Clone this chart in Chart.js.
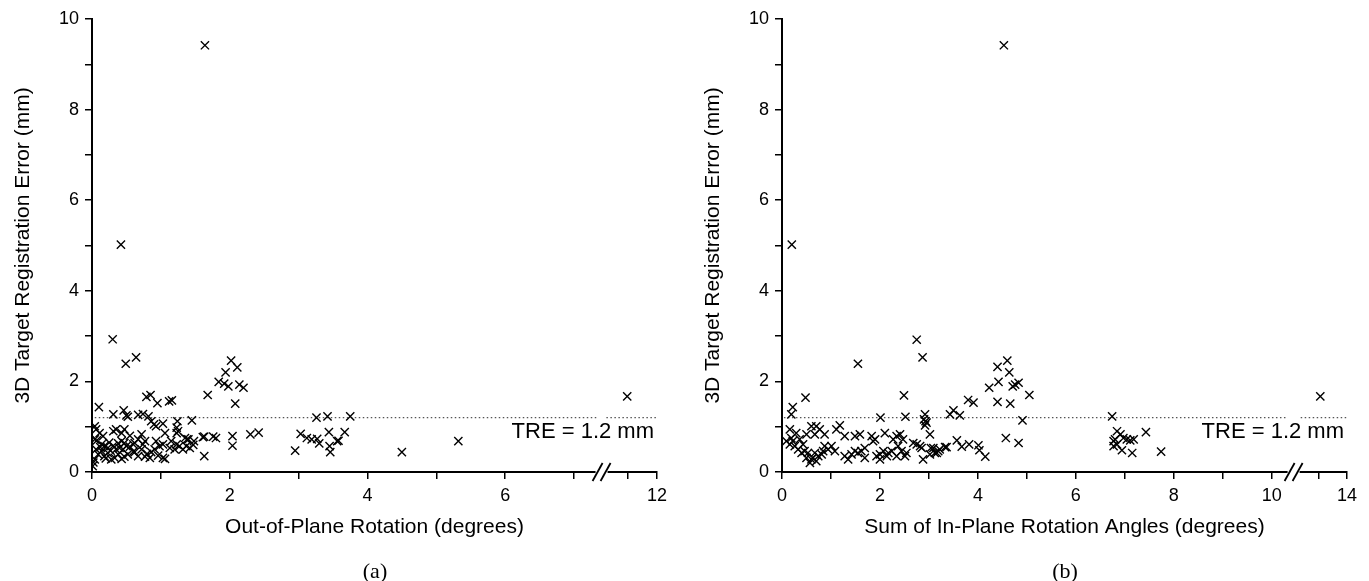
<!DOCTYPE html>
<html>
<head>
<meta charset="utf-8">
<script src="https://cdn.jsdelivr.net/npm/chart.js@4"></script>
<style>
  body { margin: 0; background: #fff; width: 1369px; height: 581px; overflow: hidden; position: relative; }
  canvas { position: absolute; top: 0; }
  #chart_a { left: 0; }
  #chart_b { left: 690px; }
  .panel_label { position: absolute; top: 560px; font: 22px "Liberation Serif", "Times New Roman", serif; line-height: 22px; color: #000; transform: translateX(-50%); }
</style>
</head>
<body>
<canvas id="chart_a" width="684" height="581"></canvas>
<canvas id="chart_b" width="679" height="581"></canvas>
<div class="panel_label" style="left:375px">(a)</div>
<div class="panel_label" style="left:1065px">(b)</div>
<script>
const tre_level = 1.2;
const tre_label = "TRE = 1.2 mm";
const y_title = "3D Target Registration Error (mm)";
const y_ticks = [0, 1, 2, 3, 4, 5, 6, 7, 8, 9, 10];
const y_tick_labels = ["0", "", "2", "", "4", "", "6", "", "8", "", "10"];

// (a) out-of-plane rotation (degrees) vs TRE (mm)
const out_plane_title = "Out-of-Plane Rotation (degrees)";
const out_plane_x = [1.64, 0.42, 0.30, 0.64, 0.49,
    0.10, 0.31, 0.46, 0.50, 0.52, 0.67, 0.74, 0.79, 0.85, 0.95, 0.82, 1.12, 1.16, 1.24, 1.45, 1.68, 1.84, 1.92, 1.98, 1.94, 2.02, 2.11, 2.14, 2.20, 2.08,
    0.86, 0.90, 0.93, 1.03, 1.23, 1.25, 0.04,
    1.63, 1.63, 1.76, 1.80, 2.04, 2.04, 2.30, 2.42, 2.95, 3.03, 3.12, 3.19, 3.27, 3.30, 3.26, 3.42, 3.44, 3.45, 3.46, 3.56, 3.58, 3.67, 3.75, 4.50, 5.32, 10.97,
    0.06, 0.11, 0.16, 0.04, 0.07, 0.31, 0.35, 0.43, 0.47, 0.72, 1.06, 1.23, 1.35, 1.40, 1.48, 1.61, 1.15, 1.23, 1.27, 1.20, 1.32, 1.37, 1.42, 1.13, 1.03,
    0.93, 0.98, 0.91, 0.86, 0.96, 1.03, 1.06, 0.84, 0.77, 0.67, 0.62, 0.72, 0.74, 0.60, 0.55, 0.50, 0.45, 0.52, 0.47, 0.43, 0.38, 0.33, 0.28, 0.23,
    0.18, 0.14, 0.09, 0.06, 0.04, 0.01, 0.14, 0.18, 0.23, 0.31, 0.35, 0.40, 0.43, 0.47, 0.38, 0.62, 0.67, 0.77, 1.38, 1.47, 0.02, 0.25, 0.55, 0.60,
    0.27, 0.20, 0.80, 0.12];
const out_plane_y = [9.42, 5.02, 2.93, 2.53, 2.39,
    1.43, 1.27, 1.36, 1.25, 1.22, 1.26, 1.28, 1.66, 1.70, 1.52, 1.23, 1.56, 1.58, 1.12, 1.14, 1.70, 1.99, 1.95, 1.89, 2.20, 2.46, 2.31, 1.93, 1.86, 1.51,
    1.12, 1.05, 1.01, 1.07, 0.98, 0.90, 1.01,
    0.78, 0.35, 0.78, 0.75, 0.79, 0.58, 0.83, 0.87, 0.47, 0.84, 0.75, 0.72, 0.73, 0.63, 1.20, 1.23, 0.88, 0.57, 0.44, 0.68, 0.69, 0.88, 1.23, 0.44, 0.68, 1.67,
    0.94, 0.86, 0.79, 0.72, 0.70, 0.90, 0.94, 0.86, 0.94, 0.83, 0.86, 0.86, 0.75, 0.72, 0.68, 0.77, 0.68, 0.61, 0.57, 0.50, 0.50, 0.57, 0.53, 0.53, 0.61,
    0.68, 0.57, 0.50, 0.44, 0.36, 0.31, 0.29, 0.31, 0.34, 0.35, 0.44, 0.50, 0.61, 0.61, 0.56, 0.57, 0.50, 0.39, 0.34, 0.29, 0.39, 0.31, 0.28, 0.42,
    0.35, 0.46, 0.39, 0.50, 0.28, 0.13, 0.61, 0.57, 0.53, 0.58, 0.50, 0.53, 0.68, 0.64, 0.63, 0.64, 0.72, 0.68, 0.72, 0.60, 0.21, 0.65, 0.80, 0.45,
    0.47, 0.30, 0.40, 0.55];
const out_plane_ticks = [0, 1, 2, 3, 4, 5, 6, 7, 11, 12];
const out_plane_tick_labels = ["0", "", "2", "", "4", "", "6", "", "", "12"];

// (b) sum of in-plane rotation angles (degrees) vs TRE (mm)
const in_plane_title = "Sum of In-Plane Rotation Angles (degrees)";
const in_plane_x = [4.53, 0.20, 2.75, 2.87, 1.55, 0.48, 0.22, 0.19, 2.49, 2.52, 2.01, 2.92, 2.90, 2.95, 2.92, 2.93, 3.02, 3.43, 3.50, 3.63,
    3.80, 3.91, 4.23, 4.42, 4.40, 4.60, 4.64, 4.71, 4.76, 4.83, 4.40, 4.66, 5.05, 4.91, 4.57, 4.83, 3.57, 3.67, 3.82, 4.01,
    4.03, 4.15, 3.33, 3.19, 3.12, 3.04, 3.02, 2.88, 2.85, 2.75, 2.68, 2.47, 2.41, 2.34, 2.27, 2.37, 2.44, 2.51, 2.54, 2.34,
    2.24, 2.17, 2.14, 2.07, 2.00, 2.00, 1.93, 2.10, 1.83, 1.86, 1.90, 1.49, 1.59, 1.69, 1.62, 1.55, 1.49, 1.42, 1.35, 1.28,
    1.69, 1.18, 1.11, 1.28, 1.01, 1.08, 0.94, 0.87, 0.81, 0.84, 0.74, 0.67, 0.63, 0.70, 0.70, 0.77, 0.87, 0.67, 0.16, 0.29,
    0.19, 0.22, 0.36, 0.43, 0.26, 0.33, 0.40, 0.46, 0.53, 0.57, 0.50, 0.60, 0.16, 0.09, 0.60, 0.50, 2.82, 3.09, 3.16, 3.22,
    3.36, 6.74, 6.84, 6.91, 6.77, 6.84, 6.80, 6.97, 7.04, 7.11, 7.18, 6.94, 6.77, 7.15, 7.43, 7.74, 13.06];
const in_plane_y = [9.42, 5.02, 2.92, 2.53, 2.39, 1.64, 1.43, 1.27, 1.69, 1.22, 1.20, 1.27, 1.16, 1.09, 1.03, 1.12, 0.83, 1.27, 1.36, 1.25,
    1.59, 1.53, 1.86, 1.99, 2.32, 2.46, 2.20, 1.89, 1.93, 1.97, 1.55, 1.51, 1.70, 1.14, 0.75, 0.64, 0.70, 0.56, 0.61, 0.59,
    0.48, 0.34, 0.55, 0.46, 0.42, 0.53, 0.39, 0.28, 0.53, 0.61, 0.64, 0.72, 0.83, 0.79, 0.72, 0.57, 0.46, 0.35, 0.42, 0.35,
    0.46, 0.42, 0.35, 0.46, 0.39, 0.28, 0.35, 0.86, 0.79, 0.68, 0.72, 0.79, 0.83, 0.53, 0.46, 0.42, 0.46, 0.39, 0.28, 0.35,
    0.31, 1.03, 0.94, 0.79, 0.57, 0.46, 0.50, 0.57, 0.39, 0.46, 0.35, 0.42, 0.31, 0.24, 1.01, 0.94, 0.83, 0.83, 0.94, 0.86,
    0.75, 0.68, 0.72, 0.61, 0.57, 0.50, 0.42, 0.46, 0.42, 0.20, 0.31, 0.28, 0.61, 0.68, 1.01, 0.83, 0.57, 0.53, 0.42, 0.50,
    0.55, 1.23, 0.90, 0.83, 0.68, 0.61, 0.72, 0.75, 0.72, 0.70, 0.72, 0.48, 0.57, 0.42, 0.88, 0.45, 1.67];
const in_plane_ticks = [0, 1, 2, 3, 4, 5, 6, 7, 8, 9, 10, 13, 14];
const in_plane_tick_labels = ["0", "", "2", "", "4", "", "6", "", "8", "", "10", "", "14"];

// broken axis: below low_end the axis is 1:1, above high_start it is squeezed
const out_plane_break = { low_end: 7.33, gap: 0.14, high_start: 10.25, high_scale: 0.42 };
const in_plane_break = { low_end: 10.30, gap: 0.29, high_start: 12.37, high_scale: 0.58 };

const font_family = '"Liberation Sans", Arial, Helvetica, sans-serif';

function to_axis(x, brk) {
    if (x <= brk.low_end) return x;
    return brk.low_end + brk.gap + (x - brk.high_start) * brk.high_scale;
}

function make_chart(canvas_id, xs, ys, x_ticks, x_tick_labels, brk, x_title, right_pad) {
    const x_max = to_axis(x_ticks[x_ticks.length - 1], brk);
    const points = xs.map((x, i) => ({ x: to_axis(x, brk), y: ys[i] }));
    const tre_line = [
        { x: 0.04, y: tre_level },
        { x: brk.low_end, y: tre_level },
        { x: brk.low_end + brk.gap / 2, y: null },
        { x: brk.low_end + brk.gap, y: tre_level },
        { x: x_max, y: tre_level }
    ];

    const break_plugin = {
        id: "axis_break",
        afterDraw(chart) {
            const ctx = chart.ctx;
            const sx = chart.scales.x, sy = chart.scales.y;
            const gx = sx.getPixelForValue(brk.low_end + brk.gap / 2);
            const ay = sx.top;
            ctx.save();
            ctx.fillStyle = "#fff";
            ctx.fillRect(gx - 6, ay - 2, 12, 4);
            ctx.strokeStyle = "#000";
            ctx.lineWidth = 1.8;
            for (const dx of [-4, 4]) {
                ctx.beginPath();
                ctx.moveTo(gx + dx - 5, ay + 9);
                ctx.lineTo(gx + dx + 5, ay - 9);
                ctx.stroke();
            }
            ctx.font = "22px " + font_family;
            ctx.fillStyle = "#000";
            ctx.textAlign = "right";
            ctx.textBaseline = "middle";
            ctx.fillText(tre_label, sx.right - 3, sy.getPixelForValue(tre_level) + 14);
            ctx.restore();
        }
    };

    const axis_common = {
        grid: { drawOnChartArea: false, drawTicks: true, tickLength: 7, color: "#000", lineWidth: 1.5 },
        border: { display: true, color: "#000", width: 2 }
    };

    return new Chart(document.getElementById(canvas_id).getContext("2d"), {
        type: "scatter",
        data: {
            datasets: [{
                data: points,
                pointStyle: "crossRot",
                pointRadius: 5.8,
                borderColor: "#000",
                backgroundColor: "#000",
                borderWidth: 1.4,
                order: 1
            }, {
                data: tre_line,
                showLine: true,
                spanGaps: false,
                pointRadius: 0,
                borderColor: "#555",
                borderWidth: 1.4,
                borderDash: [1.5, 2.5],
                order: 2
            }]
        },
        options: {
            responsive: false,
            animation: false,
            layout: { padding: { top: 19, right: right_pad, left: 0, bottom: 0 } },
            plugins: { legend: { display: false }, tooltip: { enabled: false } },
            scales: {
                x: {
                    ...axis_common,
                    type: "linear",
                    min: 0,
                    max: x_max,
                    afterBuildTicks: s => { s.ticks = x_ticks.map(v => ({ value: to_axis(v, brk) })); },
                    afterFit: s => { s.height = 109; },
                    ticks: {
                        callback: (v, i) => x_tick_labels[i],
                        autoSkip: false, maxRotation: 0, padding: 6,
                        color: "#000", font: { family: font_family, size: 18 }
                    },
                    title: {
                        display: true, text: x_title, color: "#000",
                        font: { family: font_family, size: 21 },
                        padding: { top: 0, bottom: 41 }
                    }
                },
                y: {
                    ...axis_common,
                    type: "linear",
                    min: 0,
                    max: 10,
                    afterBuildTicks: s => { s.ticks = y_ticks.map(v => ({ value: v })); },
                    afterFit: s => { s.width = 92; },
                    ticks: {
                        callback: (v, i) => y_tick_labels[i],
                        autoSkip: false, padding: 6,
                        color: "#000", font: { family: font_family, size: 18 }
                    },
                    title: {
                        display: true, text: y_title, color: "#000",
                        font: { family: font_family, size: 21 },
                        padding: { top: 11, bottom: 0 }
                    }
                }
            }
        },
        plugins: [break_plugin]
    });
}

make_chart("chart_a", out_plane_x, out_plane_y, out_plane_ticks, out_plane_tick_labels, out_plane_break, out_plane_title, 27);
make_chart("chart_b", in_plane_x, in_plane_y, in_plane_ticks, in_plane_tick_labels, in_plane_break, in_plane_title, 22);
</script>
</body>
</html>
